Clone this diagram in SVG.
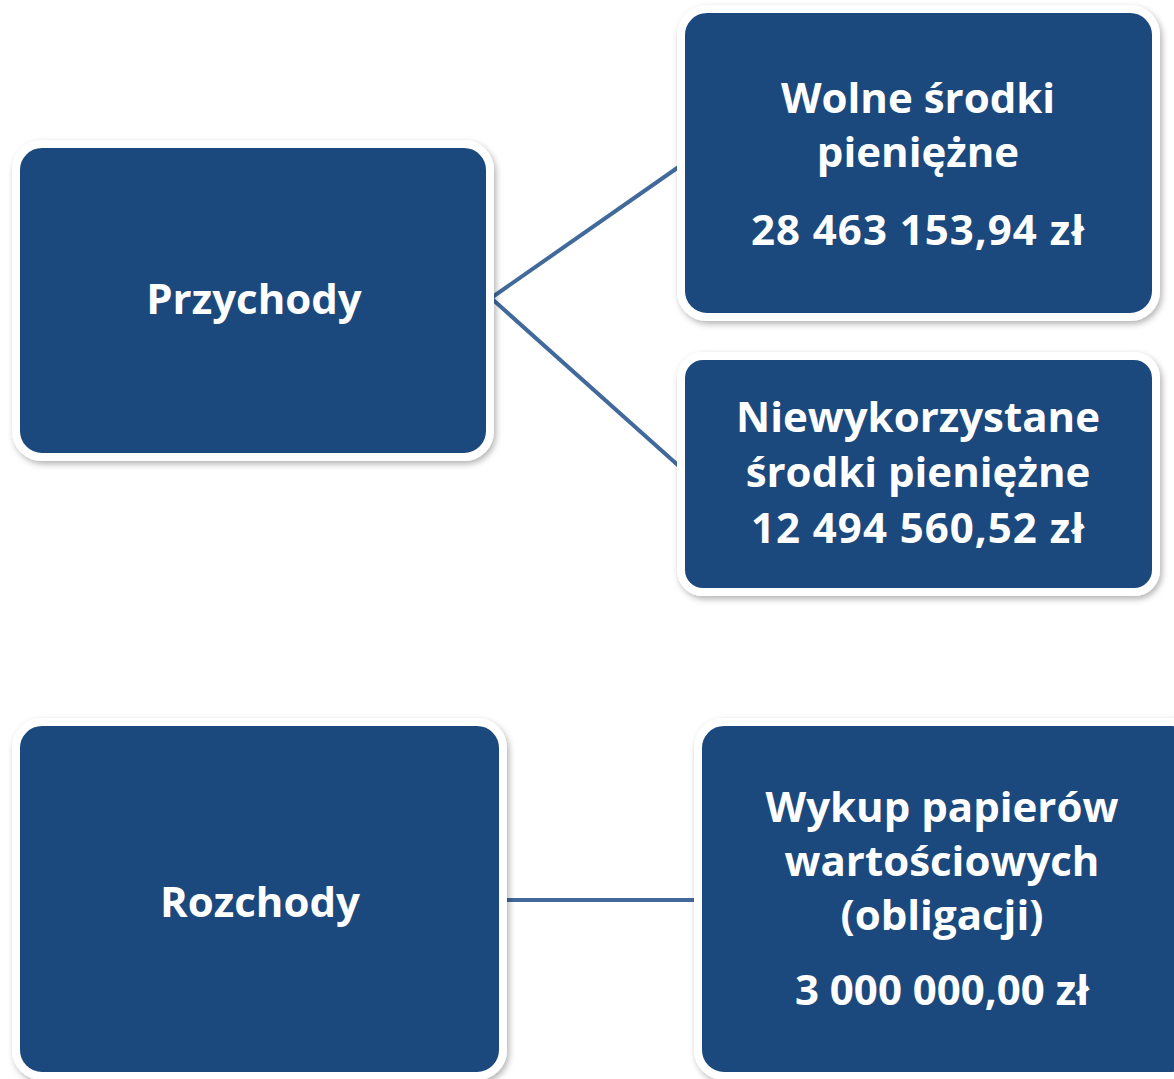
<svg xmlns="http://www.w3.org/2000/svg" width="1174" height="1079" viewBox="0 0 1174 1079">
<defs>
<filter id="sh" x="-10%" y="-10%" width="120%" height="120%">
<feDropShadow dx="2" dy="3" stdDeviation="3" flood-color="#000" flood-opacity="0.3"/>
</filter>
<style>
.box{fill:#1F497D;stroke:#FFFFFF;stroke-width:8;filter:url(#sh)}
.t{fill:#FFFFFF;font-family:"Open Sans","Liberation Sans",sans-serif;font-weight:700;font-size:42px;text-anchor:middle}
.n{letter-spacing:1px}
.c{stroke:#41699C;stroke-width:4;fill:none}
</style>
</defs>
<rect width="1174" height="1079" fill="#FFFFFF"/>
<g id="connectors">
<polyline class="c" points="680,166 491,298 680,467"/>
<line class="c" x1="503" y1="900" x2="697" y2="900"/>
</g>
<g id="przychody">
<rect class="box" x="16" y="144" width="474" height="313" rx="26"/>
<text class="t" x="254" y="314">Przychody</text>
</g>
<g id="wolne">
<rect class="box" x="681" y="9" width="475" height="308" rx="26"/>
<text class="t" x="918" y="113">Wolne środki</text>
<text class="t" x="918" y="167">pieniężne</text>
<text class="t n" x="918" y="245">28 463 153,94 zł</text>
</g>
<g id="niewykorzystane">
<rect class="box" x="681" y="356" width="475" height="236" rx="22"/>
<text class="t" x="918" y="432">Niewykorzystane</text>
<text class="t" x="918" y="487">środki pieniężne</text>
<text class="t n" x="918" y="543">12 494 560,52 zł</text>
</g>
<g id="rozchody">
<rect class="box" x="16" y="722" width="487" height="354" rx="26"/>
<text class="t" x="260" y="917">Rozchody</text>
</g>
<g id="wykup">
<rect class="box" x="698" y="722" width="500" height="354" rx="26"/>
<text class="t" x="942" y="822">Wykup papierów</text>
<text class="t" x="942" y="876">wartościowych</text>
<text class="t" x="942" y="930">(obligacji)</text>
<text class="t" x="942" y="1005">3 000 000,00 zł</text>
</g>
</svg>
